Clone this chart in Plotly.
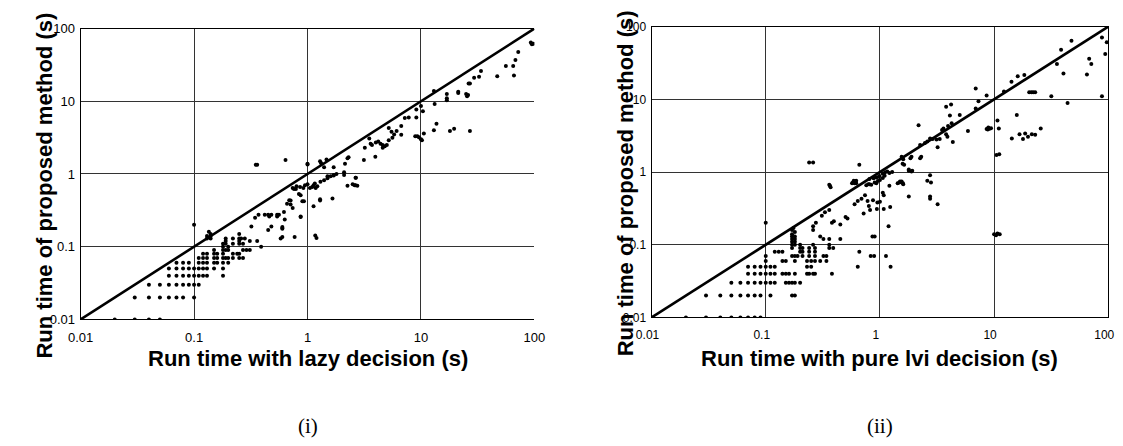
import plotly.graph_objects as go

W, H = 1123, 446

tick_vals = [0.01, 0.1, 1, 10, 100]
tick_text = ["0.01", "0.1", "1", "10", "100"]
diag = [0.01, 100]

x_title_left = "Run time with lazy decision (s)"
x_title_right = "Run time with pure lvi decision (s)"
y_title = "Run time of proposed method (s)"
captions = ["(i)", "(ii)"]

# (lazy decision run time, proposed method run time)
lazy_points = [
    (0.01, 0.01), (0.02, 0.01), (0.03, 0.01), (0.04, 0.01), (0.05, 0.01),
    (0.03, 0.02), (0.04, 0.02), (0.05, 0.02), (0.06, 0.02), (0.07, 0.02), (0.08, 0.02), (0.1, 0.02),
    (0.04, 0.03), (0.05, 0.03), (0.06, 0.03), (0.07, 0.03), (0.08, 0.03), (0.09, 0.03), (0.1, 0.03), (0.11, 0.03),
    (0.06, 0.04), (0.07, 0.04), (0.08, 0.04), (0.09, 0.04), (0.1, 0.04), (0.11, 0.04), (0.12, 0.04), (0.13, 0.04), (0.18, 0.04),
    (0.06, 0.05), (0.07, 0.05), (0.08, 0.05), (0.09, 0.05), (0.1, 0.05), (0.11, 0.05), (0.12, 0.05), (0.13, 0.05), (0.15, 0.05), (0.18, 0.05),
    (0.07, 0.06), (0.08, 0.06), (0.09, 0.06), (0.11, 0.06), (0.12, 0.06), (0.13, 0.06), (0.15, 0.06), (0.16, 0.06), (0.18, 0.06), (0.2, 0.06),
    (0.11, 0.07), (0.12, 0.07), (0.13, 0.07), (0.15, 0.07), (0.16, 0.07), (0.18, 0.07), (0.19, 0.07), (0.2, 0.07), (0.22, 0.07), (0.25, 0.07), (0.27, 0.07),
    (0.12, 0.08), (0.13, 0.08), (0.15, 0.08), (0.16, 0.08), (0.18, 0.08), (0.22, 0.08), (0.24, 0.08), (0.25, 0.08),
    (0.15, 0.09), (0.18, 0.09), (0.19, 0.09), (0.2, 0.09), (0.27, 0.09), (0.29, 0.09), (0.31, 0.09),
    (0.18, 0.1), (0.2, 0.1), (0.39, 0.1),
    (0.18, 0.11), (0.19, 0.11), (0.25, 0.11), (0.27, 0.11), (0.22, 0.11),
    (0.19, 0.12), (0.25, 0.12), (0.31, 0.12), (0.36, 0.12),
    (0.19, 0.13), (0.25, 0.13), (0.26, 0.13), (0.28, 0.13), (0.22, 0.13), (0.58, 0.13), (0.6, 0.136), (0.77, 0.136),
    (0.13, 0.14), (0.14, 0.15), (0.13, 0.13), (0.14, 0.13), (0.135, 0.16), (0.14, 0.14),
    (0.1, 0.2),
    (0.25, 0.15), (0.32, 0.19), (0.345, 0.25), (0.37, 0.275), (0.42, 0.275), (0.46, 0.26), (0.45, 0.17),
    (0.48, 0.19), (0.54, 0.275), (0.6, 0.18), (0.62, 0.3), (0.66, 0.39), (0.71, 0.43), (0.79, 0.62),
    (0.45, 0.275), (0.48, 0.275), (0.54, 0.26), (0.56, 0.275), (0.63, 0.236), (0.6, 0.187), (0.6, 0.177), (0.87, 0.255),
    (0.69, 0.435), (0.71, 0.38), (0.74, 0.34), (0.84, 0.53), (0.87, 0.51), (0.9, 0.42), (0.93, 0.42), (0.87, 0.26),
    (1.13, 0.36), (1.29, 0.43), (1.29, 0.45), (1.66, 0.46),
    (1.17, 0.142), (1.2, 0.132),
    (0.74, 0.64), (0.76, 0.62), (0.8, 0.68), (0.86, 0.66), (0.92, 0.64), (0.95, 0.7), (1.0, 0.72), (1.05, 0.64),
    (1.1, 0.66), (1.13, 0.7), (1.16, 0.74), (1.18, 0.64), (1.22, 0.68), (1.3, 0.78), (1.4, 0.82), (1.5, 0.87),
    (1.6, 0.93), (1.7, 0.95), (2.1, 0.97),
    (2.25, 0.69), (2.5, 0.72), (2.6, 0.7), (2.65, 0.7), (2.75, 0.69), (2.65, 0.89),
    (0.35, 1.34), (0.36, 1.34), (0.64, 1.56), (1.0, 1.35), (1.0, 1.38), (1.29, 1.5), (1.32, 1.4), (1.47, 1.58),
    (1.4, 1.24), (1.7, 1.24), (2.14, 1.38), (2.25, 1.64), (2.3, 1.7), (2.1, 1.06), (1.8, 1.0), (1.7, 0.97),
    (1.5, 0.93), (2.67, 0.89), (3.14, 1.56), (3.2, 2.3), (3.5, 3.08), (3.6, 2.6), (3.7, 2.5), (3.96, 1.72),
    (4.0, 2.7), (4.2, 2.8), (4.4, 2.6), (4.6, 2.5), (4.8, 2.4), (5.0, 2.5), (5.2, 2.9), (4.6, 2.3),
    (5.2, 4.3), (5.5, 3.8), (5.6, 3.15), (5.8, 3.5), (6.1, 3.9), (6.7, 4.55), (6.7, 3.45),
    (7.2, 5.9), (7.8, 6.0), (9.1, 6.0), (9.1, 7.7), (10.0, 8.6), (10.4, 7.3),
    (8.9, 3.3), (9.3, 3.3), (9.6, 3.2), (10.0, 3.0), (10.2, 2.9), (10.6, 3.6), (13.0, 4.0), (13.7, 4.9),
    (18.0, 3.9), (19.6, 4.2), (27.0, 3.9),
    (13.2, 9.2), (13.0, 13.8), (16.9, 12.6), (16.9, 11.0), (16.9, 10.3), (21.3, 13.5), (21.3, 13.0),
    (25.0, 12.6), (25.5, 11.7), (26.0, 12.2), (26.3, 17.5), (27.0, 17.5), (29.4, 21.0), (32.5, 21.8),
    (33.8, 26.0), (47.0, 22.0), (56.0, 30.6), (65.0, 30.6), (66.0, 22.6), (68.0, 36.8), (72.0, 47.5),
    (93.0, 64.0), (95.0, 61.0), (98.0, 62.0),
]

# (pure lvi decision run time, proposed method run time)
lvi_points = [
    (0.01, 0.01), (0.02, 0.01), (0.03, 0.01), (0.04, 0.01), (0.05, 0.01), (0.06, 0.01), (0.07, 0.01), (0.08, 0.01), (0.09, 0.01),
    (0.03, 0.02), (0.04, 0.02), (0.05, 0.02), (0.06, 0.02), (0.07, 0.02), (0.08, 0.02), (0.09, 0.02), (0.11, 0.02), (0.17, 0.02), (0.18, 0.02),
    (0.05, 0.03), (0.06, 0.03), (0.07, 0.03), (0.08, 0.03), (0.09, 0.03), (0.1, 0.03), (0.11, 0.03), (0.12, 0.03),
    (0.15, 0.03), (0.16, 0.03), (0.17, 0.03), (0.18, 0.03), (0.2, 0.03),
    (0.07, 0.04), (0.08, 0.04), (0.09, 0.04), (0.1, 0.04), (0.11, 0.04), (0.12, 0.04), (0.14, 0.04), (0.15, 0.04),
    (0.16, 0.04), (0.18, 0.04), (0.23, 0.04), (0.24, 0.04), (0.26, 0.04), (0.27, 0.04), (0.38, 0.04),
    (0.07, 0.05), (0.08, 0.05), (0.09, 0.05), (0.1, 0.05), (0.11, 0.05), (0.12, 0.05), (0.23, 0.05), (0.25, 0.05), (0.64, 0.05), (1.24, 0.05),
    (0.1, 0.06), (0.14, 0.06), (0.15, 0.06), (0.18, 0.06), (0.23, 0.06), (0.25, 0.06), (0.27, 0.06), (0.3, 0.06), (0.34, 0.06),
    (0.1, 0.07), (0.17, 0.07), (0.18, 0.07), (0.19, 0.07), (0.21, 0.07), (0.24, 0.07), (0.27, 0.07), (0.32, 0.07),
    (0.34, 0.07), (0.83, 0.07), (0.89, 0.07), (1.13, 0.07),
    (0.12, 0.08), (0.13, 0.08), (0.14, 0.08), (0.2, 0.08), (0.21, 0.08), (0.24, 0.08), (0.27, 0.08), (0.66, 0.08),
    (0.17, 0.09), (0.2, 0.09), (0.21, 0.09), (0.24, 0.09), (0.27, 0.09), (0.36, 0.09), (0.39, 0.09),
    (0.17, 0.1), (0.18, 0.1), (0.2, 0.1), (0.26, 0.1), (0.36, 0.1),
    (0.17, 0.11), (0.18, 0.12), (0.17, 0.13), (0.18, 0.13), (0.17, 0.14), (0.18, 0.15), (0.17, 0.16),
    (0.175, 0.17), (0.18, 0.11), (0.17, 0.12),
    (0.1, 0.2),
    (0.26, 0.16), (0.26, 0.18), (0.275, 0.2), (0.3, 0.13), (0.32, 0.12), (0.36, 0.12), (0.38, 0.2), (0.395, 0.21),
    (0.45, 0.19), (0.45, 0.12), (0.5, 0.24), (0.52, 0.23), (0.6, 0.36), (0.64, 0.4), (0.69, 0.43), (0.74, 0.48),
    (0.78, 0.4), (0.8, 0.34), (0.82, 0.3), (0.86, 0.13), (0.95, 0.38),
    (0.31, 0.25), (0.33, 0.28), (0.36, 0.3),
    (0.36, 0.67), (0.365, 0.65), (0.37, 0.62),
    (0.57, 0.7), (0.58, 0.72), (0.6, 0.7), (0.62, 0.7), (0.59, 0.76), (0.62, 0.76),
    (0.76, 0.66), (0.81, 0.8), (0.88, 0.82), (0.93, 0.84), (0.98, 0.86),
    (0.24, 1.35), (0.26, 1.35), (0.66, 1.26),
    (0.81, 0.68), (0.84, 0.67), (0.9, 0.72), (0.93, 0.7), (0.96, 0.75), (1.0, 0.78), (1.06, 0.83), (1.1, 0.89),
    (1.21, 0.97), (1.28, 1.0), (1.79, 1.04), (1.92, 1.04), (1.43, 0.7), (1.48, 0.72), (1.55, 0.74), (1.59, 0.7),
    (1.21, 0.65), (2.6, 0.76), (2.8, 0.72), (2.75, 0.9), (1.79, 0.46), (2.75, 0.46), (2.75, 0.43), (3.2, 0.36),
    (0.87, 0.41), (1.0, 0.39), (1.06, 0.52), (1.08, 0.48), (1.23, 0.33), (0.94, 0.31), (1.08, 0.31),
    (0.72, 0.27), (1.19, 0.18), (0.9, 0.13),
    (10.0, 0.14), (10.7, 0.143), (11.2, 0.14), (10.4, 0.135),
    (1.06, 0.95), (1.11, 0.99), (1.16, 1.02), (0.99, 0.88), (0.79, 0.68),
    (1.5, 0.74), (1.6, 0.68),
    (1.55, 1.62), (1.6, 1.5), (1.58, 1.3), (1.63, 1.26), (1.79, 1.08), (1.89, 1.02),
    (1.89, 1.62), (1.85, 1.55), (2.25, 1.55), (2.3, 1.62),
    (2.18, 4.4),
    (2.25, 2.35), (2.48, 2.51), (2.6, 2.64), (2.75, 2.9), (2.9, 2.85), (3.13, 2.8), (3.34, 2.85), (3.2, 2.2), (4.35, 2.58),
    (3.5, 3.8), (3.6, 3.98), (3.8, 3.3), (3.9, 3.05), (3.95, 4.3),
    (4.2, 8.5), (3.8, 7.9), (4.1, 6.0), (4.25, 4.7), (5.0, 6.1), (5.9, 3.67),
    (6.9, 14.1), (8.6, 11.3), (7.3, 9.4), (6.9, 7.5),
    (8.6, 3.9), (8.9, 4.1), (9.1, 3.95), (9.4, 4.0), (8.8, 3.85),
    (10.7, 5.1), (11.0, 3.98), (10.5, 1.71), (11.1, 1.75),
    (12.2, 12.8), (14.2, 17.5), (16.1, 20.8), (18.4, 21.6),
    (20.3, 12.5), (21.2, 12.5), (22.0, 12.5), (22.9, 12.5),
    (15.8, 6.1), (25.6, 3.98), (22.9, 3.25), (21.4, 3.3), (19.8, 3.05), (18.7, 3.4), (17.9, 2.85), (16.7, 3.3), (14.3, 2.9),
    (31.7, 11.0), (44.0, 8.9), (35.5, 30.6), (40.5, 22.6), (38.6, 48.0), (47.6, 64.0), (65.0, 21.9), (68.0, 36.0),
    (71.0, 30.6), (88.0, 71.0), (97.0, 61.0), (94.0, 42.0), (88.0, 11.0),
]

lazy_x = [p[0] for p in lazy_points]
lazy_y = [p[1] for p in lazy_points]
lvi_x = [p[0] for p in lvi_points]
lvi_y = [p[1] for p in lvi_points]

# panel frames in pixels (left, right, top, bottom)
panels = [(58, 523, 14, 315), (643, 1111, 12, 313)]


def dom_x(a, b):
    return [a / W, b / W]


def dom_y(top, bottom):
    return [1 - bottom / H, 1 - top / H]


fig = go.Figure()

marker = dict(color="black", size=4, line=dict(width=0))
fig.add_trace(go.Scatter(x=lazy_x, y=lazy_y, mode="markers", marker=marker,
                         xaxis="x", yaxis="y", showlegend=False))
fig.add_trace(go.Scatter(x=diag, y=diag, mode="lines", line=dict(color="black", width=2.6),
                         xaxis="x", yaxis="y", showlegend=False))
fig.add_trace(go.Scatter(x=lvi_x, y=lvi_y, mode="markers", marker=marker,
                         xaxis="x2", yaxis="y2", showlegend=False))
fig.add_trace(go.Scatter(x=diag, y=diag, mode="lines", line=dict(color="black", width=2.6),
                         xaxis="x2", yaxis="y2", showlegend=False))

font_fam = "Liberation Sans, Arial, sans-serif"
tick_font_l = dict(family=font_fam, size=13, color="black")
tick_font_r = dict(family=font_fam, size=12, color="black")
common = dict(type="log", range=[-2, 2], tickvals=tick_vals, ticktext=tick_text,
              showgrid=True, gridcolor="#333333", gridwidth=1, zeroline=False,
              showline=True, linecolor="black", linewidth=1, ticks="",
              fixedrange=True, ticklabeloverflow="allow")

(l1, r1, t1, b1), (l2, r2, t2, b2) = panels
fig.update_layout(
    width=W, height=H,
    margin=dict(l=0, r=0, t=0, b=0),
    paper_bgcolor="white", plot_bgcolor="white",
    xaxis=dict(common, domain=dom_x(l1, r1), anchor="y", mirror=True,
               ticklabelstandoff=6, tickfont=tick_font_l),
    yaxis=dict(common, domain=dom_y(t1, b1), anchor="x", mirror=False,
               ticklabelstandoff=2, tickfont=tick_font_l),
    xaxis2=dict(common, domain=dom_x(l2, r2), anchor="y2", mirror=True,
                ticklabelstandoff=6, ticklabelshift=-4, tickfont=tick_font_r),
    yaxis2=dict(common, domain=dom_y(t2, b2), anchor="x2", mirror=True,
                ticklabelstandoff=2, tickfont=tick_font_r),
)

title_font = dict(family=font_fam, size=22, color="black", weight="bold")
cap_font = dict(family="Liberation Serif, DejaVu Serif, serif", size=21, color="black")
annos = [
    dict(text=x_title_left, x=(l1 + r1) / 2 / W, y=1 - 355 / H, font=title_font),
    dict(text=x_title_right, x=(l2 + r2) / 2 / W, y=1 - 355 / H, font=title_font),
    dict(text=y_title, x=21 / W, y=1 - 176 / H, textangle=-90, font=title_font),
    dict(text=y_title, x=616 / W, y=1 - 174 / H, textangle=-90, font=title_font),
    dict(text=captions[0], x=(l1 + r1) / 2 / W, y=1 - 425 / H, font=cap_font),
    dict(text=captions[1], x=(l2 + r2) / 2 / W, y=1 - 425 / H, font=cap_font),
]
for a in annos:
    fig.add_annotation(xref="paper", yref="paper", showarrow=False,
                       xanchor="center", yanchor="middle", **a)

fig.write_html("out.html")
